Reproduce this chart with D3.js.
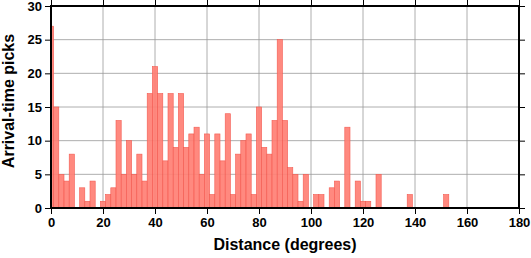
<!DOCTYPE html>
<html>
<head>
<meta charset="utf-8">
<script src="https://cdn.jsdelivr.net/npm/d3@7"></script>
<style>
  body { margin: 0; background: #fff; }
  text { font-family: "Liberation Sans", Arial, sans-serif; font-weight: bold; fill: #000; }
</style>
</head>
<body>
<div id="chart"></div>
<script>
// histogram of arrival-time picks, 2-degree bins centred on even degrees
const binCenters = [0, 2, 4, 6, 8, 12, 14, 16, 20, 22, 24, 26, 28, 30, 32, 34, 36, 38, 40, 42,
  44, 46, 48, 50, 52, 54, 56, 58, 60, 62, 64, 66, 68, 70, 72, 74, 76, 78, 80, 82,
  84, 86, 88, 90, 92, 94, 96, 98, 102, 104, 108, 110, 114, 118, 120, 122, 126, 138, 152];
const picks = [27, 15, 5, 4, 8, 3, 1, 4, 1, 2, 3, 13, 5, 10, 5, 8, 4, 17, 21, 17,
  7, 17, 9, 17, 9, 11, 12, 5, 11, 2, 11, 7, 14, 2, 8, 10, 11, 2, 15, 9,
  8, 13, 25, 13, 6, 5, 1, 5, 2, 2, 3, 4, 12, 4, 1, 1, 5, 2, 2];
const binWidth = 2;
const xTicks = [0, 20, 40, 60, 80, 100, 120, 140, 160, 180];
const yTicks = [0, 5, 10, 15, 20, 25, 30];

const W = 531, H = 258;
const m = { left: 51, right: 12, top: 6, bottom: 50 };

const svg = d3.select('#chart').append('svg')
  .attr('width', W).attr('height', H);

const x = d3.scaleLinear([0, 180], [m.left, W - m.right]);
const y = d3.scaleLinear([0, 30], [H - m.bottom, m.top]);

svg.append('clipPath').attr('id', 'plot')
  .append('rect')
  .attr('x', x(0)).attr('y', y(30))
  .attr('width', x(180) - x(0)).attr('height', y(0) - y(30));

// grid
const grid = svg.append('g').attr('stroke', '#999').attr('stroke-width', 0.8);
grid.selectAll('.gx').data(xTicks.slice(1, -1)).enter().append('line')
  .attr('x1', d => x(d)).attr('x2', d => x(d))
  .attr('y1', y(0)).attr('y2', y(30));
grid.selectAll('.gy').data(yTicks.slice(1, -1)).enter().append('line')
  .attr('x1', x(0)).attr('x2', x(180))
  .attr('y1', d => y(d)).attr('y2', d => y(d));

// bars
const data = binCenters.map((c, i) => ({ c, n: picks[i] }));
svg.append('g').attr('clip-path', 'url(#plot)')
  .selectAll('rect').data(data).enter().append('rect')
  .attr('x', d => x(d.c - binWidth / 2))
  .attr('width', d => x(d.c + binWidth / 2) - x(d.c - binWidth / 2))
  .attr('y', d => y(d.n))
  .attr('height', d => y(0) - y(d.n))
  .attr('fill', '#ff7f74')
  .attr('fill-opacity', 0.92)
  .attr('stroke', '#f35a50')
  .attr('stroke-width', 0.6);

// axes: annotated left & bottom, ticks on all four sides
const tl = 6;
const axBottom = svg.append('g').attr('transform', `translate(0,${y(0)})`)
  .call(d3.axisBottom(x).tickValues(xTicks).tickSize(tl).tickPadding(4));
const axLeft = svg.append('g').attr('transform', `translate(${x(0)},0)`)
  .call(d3.axisLeft(y).tickValues(yTicks).tickSize(tl).tickPadding(3));
const axTop = svg.append('g').attr('transform', `translate(0,${y(30)})`)
  .call(d3.axisTop(x).tickValues(xTicks).tickSize(tl).tickFormat(''));
const axRight = svg.append('g').attr('transform', `translate(${x(180)},0)`)
  .call(d3.axisRight(y).tickValues(yTicks).tickSize(tl).tickFormat(''));

[axBottom, axLeft, axTop, axRight].forEach(g => {
  g.select('.domain').remove();
  g.selectAll('.tick line').attr('stroke', '#000').attr('stroke-width', 1);
  g.selectAll('.tick text').style('font-size', '13px')
    .style('font-family', '"Liberation Sans", Arial, sans-serif')
    .style('font-weight', 'bold').attr('fill', '#000');
});

// frame
svg.append('rect')
  .attr('x', x(0)).attr('y', y(30))
  .attr('width', x(180) - x(0)).attr('height', y(0) - y(30))
  .attr('fill', 'none').attr('stroke', '#000').attr('stroke-width', 2);

// titles
svg.append('text')
  .attr('x', (x(0) + x(180)) / 2).attr('y', 250)
  .attr('text-anchor', 'middle')
  .style('font-size', '16px')
  .text('Distance (degrees)');

svg.append('text')
  .attr('transform', `translate(14,${(y(0) + y(30)) / 2 - 6}) rotate(-90)`)
  .attr('text-anchor', 'middle')
  .style('font-size', '16px')
  .text('Arrival-time picks');
</script>
</body>
</html>
